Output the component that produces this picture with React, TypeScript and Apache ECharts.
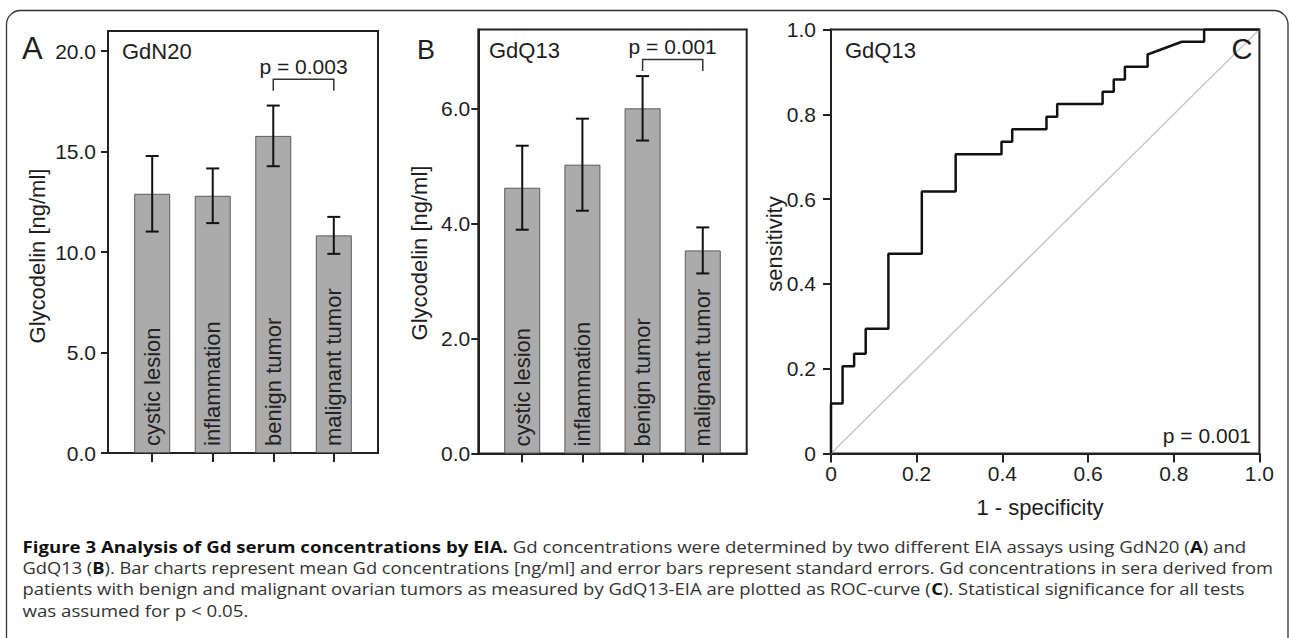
import React, { useEffect, useRef } from "react";
import * as echarts from "echarts";

// ---------- data ----------
const categories = ["cystic lesion", "inflammation", "benign tumor", "malignant tumor"];
const categoryPos = [1, 2, 3, 4];

const gdn20Mean = [12.9, 12.8, 15.78, 10.83];
const gdn20Se = [1.88, 1.36, 1.51, 0.92];

const gdq13Mean = [4.62, 5.02, 6.0, 3.53];
const gdq13Se = [0.73, 0.8, 0.56, 0.4];

const ticksA = [0, 5, 10, 15, 20];
const ticksB = [0, 2, 4, 6];
const ticksC = [0, 0.2, 0.4, 0.6, 0.8, 1.0];

// significance brackets: [fromPos, toPos, top, legBottom]
const bracketA = [3, 4, 18.6, 18.03];
const bracketB = [3, 4, 6.85, 6.65];
const pTextA = "p = 0.003";
const pTextB = "p = 0.001";
const pTextC = "p = 0.001";

// ROC curve (1 - specificity, sensitivity)
const rocFpr = [0, 0, 0.027, 0.027, 0.054, 0.054, 0.081, 0.081, 0.134, 0.134, 0.212, 0.212, 0.291, 0.291, 0.398, 0.398, 0.423, 0.423, 0.503, 0.503, 0.528, 0.528, 0.634, 0.634, 0.66, 0.66, 0.686, 0.686, 0.739, 0.739, 0.819, 0.871, 0.871, 1.0];
const rocTpr = [0, 0.118, 0.118, 0.206, 0.206, 0.235, 0.235, 0.294, 0.294, 0.471, 0.471, 0.618, 0.618, 0.706, 0.706, 0.735, 0.735, 0.765, 0.765, 0.794, 0.794, 0.824, 0.824, 0.853, 0.853, 0.882, 0.882, 0.912, 0.912, 0.941, 0.971, 0.971, 1.0, 1.0];
const diagonal = [[0, 0], [1, 1]];

const captionLines = [
  "{b|Figure 3 Analysis of Gd serum concentrations by EIA.} Gd concentrations were determined by two different EIA assays using GdN20 ({b|A}) and",
  "GdQ13 ({b|B}). Bar charts represent mean Gd concentrations [ng/ml] and error bars represent standard errors. Gd concentrations in sera derived from",
  "patients with benign and malignant ovarian tumors as measured by GdQ13-EIA are plotted as ROC-curve ({b|C}). Statistical significance for all tests",
  "was assumed for p < 0.05.",
];
const captionStretch = [1.164, 1.143, 1.154, 1.168];

// ---------- styles ----------
const FONT = "'Liberation Sans', Arial, sans-serif";
const CAP_FONT = "'Open Sans', 'Noto Sans', sans-serif";
const INK = "#1e1e1e";

function barSeries(mean: number[], axisIndex: number) {
  return {
    type: "bar",
    xAxisIndex: axisIndex,
    yAxisIndex: axisIndex,
    barWidth: 36,
    data: mean.map((v, i) => [categoryPos[i], v]),
    itemStyle: { color: "#ababab", borderColor: "#5c5c5c", borderWidth: 1 },
    label: {
      show: true,
      position: "insideBottom",
      rotate: 90,
      align: "left",
      verticalAlign: "middle",
      distance: 7,
      formatter: (p: any) => categories[p.dataIndex],
      fontSize: 22,
      fontFamily: FONT,
      color: "#222",
    },
    z: 2,
  };
}

function errorSeries(mean: number[], se: number[], axisIndex: number) {
  return {
    type: "custom",
    xAxisIndex: axisIndex,
    yAxisIndex: axisIndex,
    encode: { x: 0, y: [1, 2] },
    data: mean.map((v, i) => [categoryPos[i], v - se[i], v + se[i]]),
    renderItem: (params: any, api: any) => {
      const x = api.value(0);
      const lo = api.coord([x, api.value(1)]);
      const hi = api.coord([x, api.value(2)]);
      const hw = 6.5;
      const st = { stroke: "#111", lineWidth: 2 };
      return {
        type: "group",
        children: [
          { type: "line", shape: { x1: lo[0], y1: lo[1], x2: hi[0], y2: hi[1] }, style: st },
          { type: "line", shape: { x1: lo[0] - hw, y1: lo[1], x2: lo[0] + hw, y2: lo[1] }, style: st },
          { type: "line", shape: { x1: hi[0] - hw, y1: hi[1], x2: hi[0] + hw, y2: hi[1] }, style: st },
        ],
      };
    },
    z: 5,
  };
}

function bracketSeries(br: number[], text: string, axisIndex: number) {
  return {
    type: "custom",
    xAxisIndex: axisIndex,
    yAxisIndex: axisIndex,
    encode: { x: [0, 1], y: [2, 3] },
    data: [br],
    renderItem: (params: any, api: any) => {
      const a = api.coord([api.value(0), api.value(3)]);
      const b = api.coord([api.value(0), api.value(2)]);
      const c = api.coord([api.value(1), api.value(2)]);
      const d = api.coord([api.value(1), api.value(3)]);
      return {
        type: "group",
        children: [
          {
            type: "polyline",
            shape: { points: [a, b, c, d] },
            style: { stroke: "#333", lineWidth: 1.5, fill: "none" },
          },
          {
            type: "text",
            x: (b[0] + c[0]) / 2,
            y: b[1] - 13,
            style: {
              text,
              fontSize: 21,
              fontFamily: FONT,
              fill: INK,
              align: "center",
              verticalAlign: "middle",
            },
          },
        ],
      };
    },
    z: 6,
  };
}

function App() {
  const ref = useRef<HTMLDivElement>(null);

  useEffect(() => {
    if (!ref.current) return;
    const chart = echarts.init(ref.current, undefined, { renderer: "svg" });

    const axisLineStyle = { lineStyle: { color: "#222", width: 2 } };
    const tickStyle = { lineStyle: { color: "#222", width: 2 } };
    const labelBase = { fontSize: 21, fontFamily: FONT, color: INK };

    const catXAxis = (gridIndex: number) => ({
      type: "value",
      gridIndex,
      min: 0.27,
      max: 4.73,
      axisLine: { show: true, onZero: false, ...axisLineStyle },
      axisTick: { show: true, length: 9, customValues: categoryPos, ...tickStyle },
      axisLabel: { show: false },
      splitLine: { show: false },
    });

    const text = (t: string, x: number, y: number, size: number, extra: any = {}, rotation = 0) => ({
      type: "text",
      x,
      y,
      rotation,
      style: { text: t, fontSize: size, fontFamily: FONT, fill: INK, align: "left", verticalAlign: "middle", ...extra },
      z: 100,
    });

    const option: any = {
      animation: false,
      backgroundColor: "#ffffff",
      grid: [
        { left: 108, top: 31, width: 270, height: 422, show: true, borderColor: "#222", borderWidth: 2, backgroundColor: "transparent" },
        { left: 478.3, top: 29.5, width: 268.4, height: 424, show: true, borderColor: "#222", borderWidth: 2, backgroundColor: "transparent" },
        { left: 831, top: 29.5, width: 428.4, height: 424, show: true, borderColor: "#222", borderWidth: 2, backgroundColor: "transparent" },
      ],
      xAxis: [
        catXAxis(0),
        catXAxis(1),
        {
          type: "value",
          gridIndex: 2,
          min: 0,
          max: 1,
          interval: 0.2,
          axisLine: { show: true, onZero: false, ...axisLineStyle },
          axisTick: { show: true, length: 9, ...tickStyle },
          axisLabel: { ...labelBase, margin: 9, formatter: (v: number) => (v === 0 ? "0" : v.toFixed(1)) },
          splitLine: { show: false },
        },
      ],
      yAxis: [
        {
          type: "value",
          gridIndex: 0,
          min: 0,
          max: 21,
          axisLine: { show: true, onZero: false, ...axisLineStyle },
          axisTick: { show: true, length: 7, customValues: ticksA, ...tickStyle },
          axisLabel: { ...labelBase, margin: 12, customValues: ticksA, formatter: (v: number) => v.toFixed(1) },
          splitLine: { show: false },
        },
        {
          type: "value",
          gridIndex: 1,
          min: 0,
          max: 7.37,
          axisLine: { show: true, onZero: false, ...axisLineStyle },
          axisTick: { show: true, length: 7, customValues: ticksB, ...tickStyle },
          axisLabel: { ...labelBase, margin: 8, customValues: ticksB, formatter: (v: number) => v.toFixed(1) },
          splitLine: { show: false },
        },
        {
          type: "value",
          gridIndex: 2,
          min: 0,
          max: 1,
          interval: 0.2,
          axisLine: { show: true, onZero: false, ...axisLineStyle },
          axisTick: { show: true, length: 8, ...tickStyle },
          axisLabel: { ...labelBase, margin: 15, customValues: ticksC, formatter: (v: number) => (v === 0 ? "0" : v.toFixed(1)) },
          splitLine: { show: false },
        },
      ],
      series: [
        barSeries(gdn20Mean, 0),
        errorSeries(gdn20Mean, gdn20Se, 0),
        bracketSeries(bracketA, pTextA, 0),
        barSeries(gdq13Mean, 1),
        errorSeries(gdq13Mean, gdq13Se, 1),
        bracketSeries(bracketB, pTextB, 1),
        {
          type: "line",
          xAxisIndex: 2,
          yAxisIndex: 2,
          data: diagonal,
          showSymbol: false,
          lineStyle: { color: "#c8c8c8", width: 1.5 },
          z: 3,
        },
        {
          type: "line",
          xAxisIndex: 2,
          yAxisIndex: 2,
          data: rocFpr.map((x, i) => [x, rocTpr[i]]),
          showSymbol: false,
          lineStyle: { color: "#111", width: 2.5 },
          z: 4,
        },
      ],
      graphic: [
        {
          type: "rect",
          shape: { x: 6.5, y: 10.5, width: 1281.5, height: 720, r: 14 },
          style: { fill: "none", stroke: "#333", lineWidth: 1.3 },
          z: 0,
        },
        text("A", 22, 48, 31),
        text("B", 417, 50, 27),
        text("C", 1242, 49, 29, { align: "center" }),
        text("GdN20", 122, 51, 22),
        text("GdQ13", 489, 50, 22),
        text("GdQ13", 845, 50, 22),
        text(pTextC, 1251, 435, 21, { align: "right" }),
        text("Glycodelin [ng/ml]", 37, 256, 22, { align: "center" }, Math.PI / 2),
        text("Glycodelin [ng/ml]", 419, 253, 22, { align: "center" }, Math.PI / 2),
        text("sensitivity", 774, 244, 22, { align: "center" }, Math.PI / 2),
        text("1 - specificity", 1040, 507, 22, { align: "center" }),
        ...captionLines.map((line, i) => ({
          type: "text",
          x: 22.5,
          y: 546.5 + i * 21.3,
          scaleX: captionStretch[i],
          z: 100,
          style: {
            text: line,
            fontSize: 16,
            fontFamily: CAP_FONT,
            fill: "#333",
            align: "left",
            verticalAlign: "middle",
            rich: {
              b: { fontSize: 16, fontFamily: CAP_FONT, fontWeight: "bold", fill: "#111" },
            },
          },
        })),
      ],
    };

    chart.setOption(option);
    return () => chart.dispose();
  }, []);

  return (
    <div
      ref={ref}
      style={{ position: "fixed", left: 0, top: 0, width: 1289, height: 638, background: "#fff" }}
    />
  );
}

export default App;
